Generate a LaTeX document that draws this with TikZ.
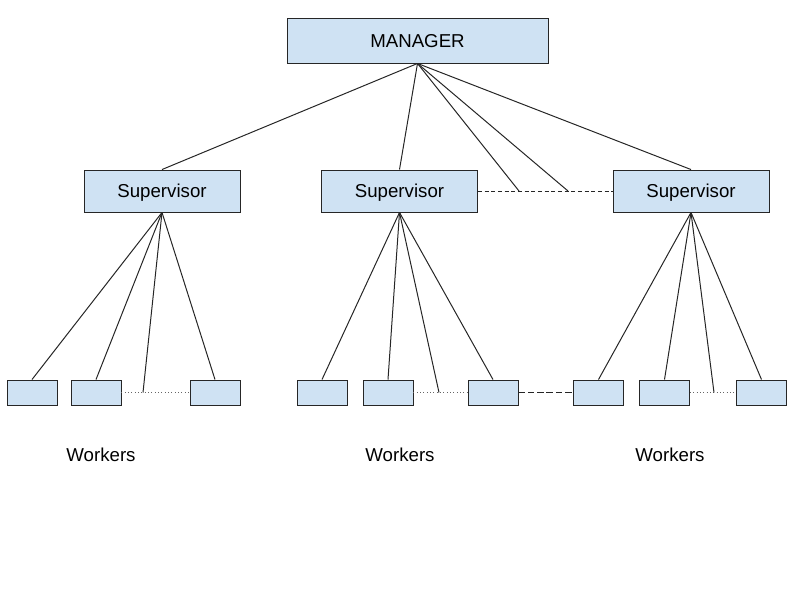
\documentclass[tikz,border=0pt]{standalone}
\usepackage{fontspec}
\setmainfont{Liberation Sans}
\definecolor{boxblue}{RGB}{207,226,243}
\begin{document}
\begin{tikzpicture}[x=0.75pt, y=-0.75pt,
        box/.style={draw=black!85, fill=boxblue, line width=0.7pt, inner sep=0pt,
            text height=10pt, text depth=0pt, font=\fontsize{14}{16}\selectfont},
        mgrbox/.style={box, minimum width=195.75pt, minimum height=33.75pt},
        supbox/.style={box, minimum width=117pt, minimum height=31.5pt},
        wrkbox/.style={box, minimum width=37.5pt, minimum height=18.75pt},
        link/.style={black!85, line width=0.75pt},
        gapline/.style={black!60, dotted, line width=0.5pt},
        dashline/.style={black!85, line width=0.7pt, dash pattern=on 3pt off 2pt}]
    \useasboundingbox (0,0) rectangle (800,600);

    % Manager
    \node[mgrbox] (mgr) at (417.5,40.5) {MANAGER};

    % Supervisors
    \foreach \i/\x in {1/162, 2/399.5, 3/691}
        \node[supbox] (sup\i) at (\x,191) {Supervisor};

    % Points on the dashed line between supervisors
    \coordinate (m1) at (519,191);
    \coordinate (m2) at (568,191);
    \draw[dashline] (sup2.east) -- (sup3.west);

    % Manager to supervisors
    \foreach \t in {sup1.north, sup2.north, m1, m2, sup3.north}
        \draw[link] (mgr.south) -- (\t);

    % Workers and their links
    \foreach \i/\xa/\xb/\xc/\xg in {1/32/96/215/143, 2/322/388/493/439, 3/598.5/664.5/761.5/714} {
        \node[wrkbox] (w\i a) at (\xa,392.5) {};
        \node[wrkbox] (w\i b) at (\xb,392.5) {};
        \node[wrkbox] (w\i c) at (\xc,392.5) {};
        \coordinate (g\i) at (\xg,392.5);
        \draw[gapline] (w\i b.east) -- (w\i c.west);
        \foreach \t in {w\i a.north, w\i b.north, g\i, w\i c.north}
            \draw[link] (sup\i.south) -- (\t);
    }

    % Dashed line between worker groups
    \draw[dashline, dash pattern=on 5pt off 2pt] (w2c.east) -- (w3a.west);

    % Labels
    \foreach \x in {101, 400, 670}
        \node[font=\fontsize{14}{16}\selectfont] (lab\x) at (\x,455) {Workers};
\end{tikzpicture}
\end{document}
